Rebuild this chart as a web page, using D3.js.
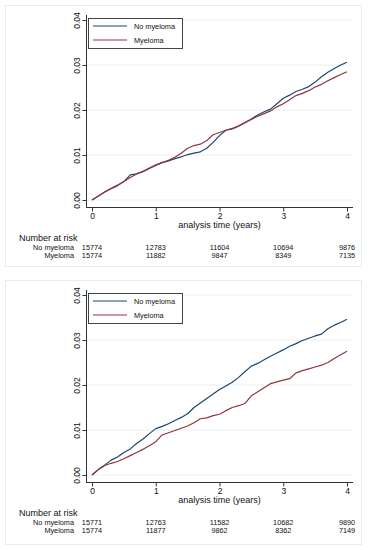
<!DOCTYPE html>
<html>
<head>
  <meta charset="utf-8">
  <script src="https://d3js.org/d3.v7.min.js"></script>
  <style>
    body { margin: 0; background: #fff; }
    text { font-family: "Liberation Sans", Arial, Helvetica, sans-serif; fill: #111; }
  </style>
</head>
<body>
  <svg id="chart"></svg>

  <script>
    // time points (years)
    const times = [0, 0.1, 0.2, 0.3, 0.4, 0.5, 0.6, 0.7, 0.8, 0.9,
                   1.0, 1.1, 1.2, 1.3, 1.4, 1.5, 1.6, 1.7, 1.8, 1.9,
                   2.0, 2.1, 2.2, 2.3, 2.4, 2.5, 2.6, 2.7, 2.8, 2.9,
                   3.0, 3.1, 3.2, 3.3, 3.4, 3.5, 3.6, 3.7, 3.8, 3.9, 4.0];

    // panel 1 cumulative incidence
    const noMyeloma1 = [0, 0.0009, 0.0018, 0.0025, 0.0032, 0.0041, 0.0056, 0.0058, 0.0063, 0.0070,
                        0.0077, 0.0083, 0.0087, 0.0092, 0.0096, 0.0101, 0.0104, 0.0107, 0.0115, 0.0128,
                        0.0143, 0.0155, 0.0158, 0.0164, 0.0172, 0.0180, 0.0189, 0.0196, 0.0202, 0.0214,
                        0.0226, 0.0233, 0.0241, 0.0246, 0.0252, 0.0262, 0.0274, 0.0284, 0.0292, 0.0300, 0.0306];
    const myeloma1 = [0, 0.0009, 0.0018, 0.0026, 0.0033, 0.0041, 0.0050, 0.0058, 0.0064, 0.0071,
                      0.0078, 0.0083, 0.0088, 0.0095, 0.0104, 0.0115, 0.0121, 0.0124, 0.0132, 0.0145,
                      0.0150, 0.0155, 0.0159, 0.0165, 0.0172, 0.0179, 0.0186, 0.0192, 0.0198, 0.0207,
                      0.0214, 0.0223, 0.0232, 0.0237, 0.0243, 0.0251, 0.0257, 0.0265, 0.0272, 0.0279, 0.0285];

    // panel 2 cumulative incidence
    const noMyeloma2 = [0, 0.0012, 0.0022, 0.0033, 0.0040, 0.0050, 0.0058, 0.0070, 0.0080, 0.0092,
                        0.0103, 0.0108, 0.0114, 0.0121, 0.0128, 0.0136, 0.0150, 0.0160, 0.0170, 0.0180,
                        0.0190, 0.0198, 0.0206, 0.0217, 0.0230, 0.0242, 0.0248, 0.0256, 0.0264, 0.0271,
                        0.0278, 0.0286, 0.0292, 0.0299, 0.0304, 0.0309, 0.0313, 0.0325, 0.0333, 0.0339, 0.0346];
    const myeloma2 = [0, 0.0012, 0.0021, 0.0026, 0.0030, 0.0036, 0.0043, 0.0050, 0.0057, 0.0065,
                      0.0074, 0.0089, 0.0094, 0.0099, 0.0104, 0.0109, 0.0116, 0.0125, 0.0127, 0.0132,
                      0.0135, 0.0143, 0.0150, 0.0154, 0.0159, 0.0176, 0.0185, 0.0194, 0.0203, 0.0207,
                      0.0211, 0.0214, 0.0227, 0.0232, 0.0236, 0.0240, 0.0244, 0.0250, 0.0259, 0.0267, 0.0275];

    const xTicks = [0, 1, 2, 3, 4];
    const yTicks = [0, 0.01, 0.02, 0.03, 0.04];
    const groups = ["No myeloma", "Myeloma"];
    const colors = ["#1a476f", "#90353b"];

    // number at risk
    const riskNo1 = [15774, 12783, 11604, 10694, 9876];
    const riskMy1 = [15774, 11882, 9847, 8349, 7135];
    const riskNo2 = [15771, 12763, 11582, 10682, 9890];
    const riskMy2 = [15774, 11877, 9862, 8362, 7149];

    const width = 372, height = 550;
    const svg = d3.select("#chart").attr("width", width).attr("height", height);

    const x = d3.scaleLinear().domain([0, 4]).range([92, 347]);
    const y = d3.scaleLinear().domain([0, 0.04]).range([200, 20]);

    function drawPanel(top, bottom, series, risks) {
      const g = svg.append("g").attr("transform", `translate(0, ${top})`);

      // faint outer frame
      g.append("rect")
        .attr("x", 5.5).attr("y", 0.5)
        .attr("width", 356).attr("height", bottom)
        .attr("fill", "none").attr("stroke", "#e3ecef");

      // gridlines
      g.selectAll(".grid")
        .data(yTicks)
        .enter().append("line")
        .attr("x1", 87).attr("x2", 353)
        .attr("y1", d => y(d) - 5).attr("y2", d => y(d) - 5)
        .attr("stroke", "#e8f0f2").attr("stroke-width", 1);

      // y axis
      const yAxis = g.append("g")
        .attr("transform", "translate(86.5, -5)")
        .call(d3.axisLeft(y).tickValues(yTicks).tickSize(4).tickFormat(d3.format(".2f")));
      yAxis.select(".domain").remove();
      yAxis.selectAll(".tick line").attr("stroke", "#333");
      yAxis.selectAll(".tick text")
        .attr("x", -6).attr("dy", 0)
        .attr("transform", "rotate(-90)")
        .attr("text-anchor", "middle")
        .attr("y", 0)
        .style("font-size", "8.5px")
        .each(function() {
          const t = d3.select(this);
          const ty = +d3.select(this.parentNode).attr("transform").match(/,\s*([-\d.]+)/)[1];
          d3.select(this.parentNode).attr("transform", `translate(0, ${ty})`);
          t.attr("transform", "translate(-6.5, 0) rotate(-90)").attr("x", 0).attr("y", 0);
        });
      g.append("line")
        .attr("x1", 86.5).attr("x2", 86.5).attr("y1", 10).attr("y2", 202)
        .attr("stroke", "#333");

      // x axis
      const xAxis = g.append("g")
        .attr("transform", "translate(0, 202.5)")
        .call(d3.axisBottom(x).tickValues(xTicks).tickSize(4).tickFormat(d3.format("d")));
      xAxis.select(".domain").remove();
      xAxis.selectAll(".tick line").attr("stroke", "#333");
      xAxis.selectAll(".tick text").attr("y", 5).attr("dy", "0.71em").style("font-size", "8.5px");
      g.append("line")
        .attr("x1", 86).attr("x2", 353).attr("y1", 202.5).attr("y2", 202.5)
        .attr("stroke", "#333");

      g.append("text")
        .attr("x", 219.5).attr("y", 223)
        .attr("text-anchor", "middle")
        .style("font-size", "9px")
        .text("analysis time (years)");

      // curves
      const line = d3.line()
        .x((d, i) => x(times[i]))
        .y(d => y(d) - 5);
      g.selectAll(".curve")
        .data(series)
        .enter().append("path")
        .attr("d", d => line(d))
        .attr("fill", "none")
        .attr("stroke", (d, i) => colors[i])
        .attr("stroke-width", 1.2)
        .attr("stroke-linejoin", "round");

      // legend
      g.append("rect")
        .attr("x", 88.5).attr("y", 13.5).attr("width", 94).attr("height", 30)
        .attr("fill", "#fff").attr("stroke", "#444");
      groups.forEach((name, i) => {
        g.append("line")
          .attr("x1", 93).attr("x2", 127)
          .attr("y1", 21 + i * 14).attr("y2", 21 + i * 14)
          .attr("stroke", colors[i]).attr("stroke-width", 1.2);
        g.append("text")
          .attr("x", 134).attr("y", 23.6 + i * 14)
          .style("font-size", "7.3px")
          .text(name);
      });

      // number at risk table
      g.append("text")
        .attr("x", 19).attr("y", 235.5)
        .style("font-size", "9px")
        .text("Number at risk");
      groups.forEach((name, i) => {
        const rowY = 244.5 + i * 8;
        g.append("text")
          .attr("x", 74).attr("y", rowY)
          .attr("text-anchor", "end")
          .style("font-size", "7.3px")
          .text(name);
        g.selectAll(".risk" + i)
          .data(risks[i])
          .enter().append("text")
          .attr("x", (d, j) => x(xTicks[j]))
          .attr("y", rowY)
          .attr("text-anchor", "middle")
          .style("font-size", "7.3px")
          .text(d => d);
      });
    }

    drawPanel(5, 261, [noMyeloma1, myeloma1], [riskNo1, riskMy1]);
    drawPanel(280, 264, [noMyeloma2, myeloma2], [riskNo2, riskMy2]);
  </script>
</body>
</html>
